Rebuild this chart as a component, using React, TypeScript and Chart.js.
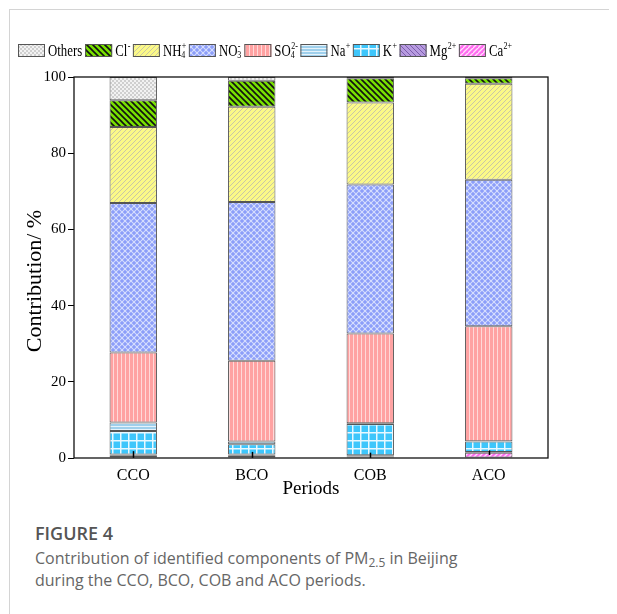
import React, { useEffect, useRef } from 'react';
import { Chart, registerables } from 'chart.js';

Chart.register(...registerables);

// ---- data ----
const periods = ['CCO', 'BCO', 'COB', 'ACO'];
const others = [6.1, 1.0, 0.3, 0.3];
const cl = [7.0, 6.8, 6.4, 1.5];
const nh4 = [20.0, 25.0, 21.5, 25.2];
const no3 = [39.2, 41.7, 39.1, 38.4];
const so4 = [18.4, 21.2, 23.6, 30.2];
const na = [2.2, 0.7, 0.2, 0.1];
const kPlus = [6.2, 2.7, 8.2, 2.7];
const mg = [0.3, 0.3, 0.3, 0.2];
const ca = [0.6, 0.6, 0.4, 1.4];
const caErr = [1.2, 1.0, 1.0, 0.6];
const yTicks = [0, 20, 40, 60, 80, 100];
const yTitle = 'Contribution/ %';
const xTitle = 'Periods';

type Tok = { t?: string; sub?: string; sup?: string };
const legendLabels: Tok[][] = [
  [{ t: 'Others' }],
  [{ t: 'Cl' }, { sup: '-' }],
  [{ t: 'NH' }, { sub: '4', sup: '+' }],
  [{ t: 'NO' }, { sub: '3', sup: '-' }],
  [{ t: 'SO' }, { sub: '4', sup: '2-' }],
  [{ t: 'Na' }, { sup: '+' }],
  [{ t: 'K' }, { sup: '+' }],
  [{ t: 'Mg' }, { sup: '2+' }],
  [{ t: 'Ca' }, { sup: '2+' }],
];

const SERIF = "'Liberation Serif', 'Times New Roman', serif";

function makePattern(size: number, bg: string, draw: (g: CanvasRenderingContext2D, s: number) => void) {
  const c = document.createElement('canvas');
  c.width = size;
  c.height = size;
  const g = c.getContext('2d')!;
  g.fillStyle = bg;
  g.fillRect(0, 0, size, size);
  draw(g, size);
  return g.createPattern(c, 'repeat')!;
}

function fwd(g: CanvasRenderingContext2D, s: number, color: string, w: number) {
  g.strokeStyle = color;
  g.lineWidth = w;
  g.beginPath();
  g.moveTo(-1, s + 1); g.lineTo(s + 1, -1);
  g.moveTo(-s - 1, s + 1); g.lineTo(1, -1);
  g.moveTo(s - 1, 2 * s + 1); g.lineTo(2 * s + 1, s - 1);
  g.stroke();
}
function back(g: CanvasRenderingContext2D, s: number, color: string, w: number) {
  g.strokeStyle = color;
  g.lineWidth = w;
  g.beginPath();
  g.moveTo(-1, -1); g.lineTo(s + 1, s + 1);
  g.moveTo(s - 1, -1); g.lineTo(2 * s + 1, s + 1);
  g.moveTo(-s - 1, -1); g.lineTo(1, s + 1);
  g.stroke();
}

function buildPatterns() {
  return {
    others: makePattern(4, '#f2f2f2', (g) => {
      g.fillStyle = '#cfcfcf';
      g.fillRect(0, 0, 2, 2);
      g.fillRect(2, 2, 2, 2);
    }),
    cl: makePattern(6, '#78e000', (g, s) => back(g, s, '#111', 1.6)),
    nh4: makePattern(5, '#fbf987', (g, s) => fwd(g, s, '#c9c7a6', 1)),
    no3: makePattern(6, '#8c9ef9', (g, s) => {
      fwd(g, s, 'rgba(235,240,255,0.75)', 1.1);
      back(g, s, 'rgba(235,240,255,0.75)', 1.1);
    }),
    so4: makePattern(4, '#ffa2a2', (g) => {
      g.fillStyle = '#ffd9d9';
      g.fillRect(1, 0, 1, 4);
    }),
    na: makePattern(3, '#9fd0ec', (g) => {
      g.fillStyle = '#e6f3fb';
      g.fillRect(0, 1, 3, 1);
    }),
    k: makePattern(8, '#3ec6fb', (g) => {
      g.fillStyle = '#e8f8ff';
      g.fillRect(0, 0, 8, 1.5);
      g.fillRect(0, 0, 1.5, 8);
    }),
    mg: makePattern(5, '#b79be0', (g, s) => back(g, s, '#7b5cab', 1)),
    ca: makePattern(5, '#ff6cf0', (g, s) => fwd(g, s, '#ffe0fb', 1.4)),
  };
}

export default function App() {
  const ref = useRef<HTMLCanvasElement>(null);

  useEffect(() => {
    const canvas = ref.current!;
    const P = buildPatterns();
    const legendFills = [P.others, P.cl, P.nh4, P.no3, P.so4, P.na, P.k, P.mg, P.ca];

    const mk = (label: string, data: number[], fill: CanvasPattern) => ({
      label,
      data,
      backgroundColor: fill,
      borderColor: '#555',
      borderWidth: 1,
      borderSkipped: false as const,
      barPercentage: 0.4,
      categoryPercentage: 1,
    });

    const framePlugin = {
      id: 'frameAndErr',
      afterDatasetsDraw(chart: any) {
        const { ctx, chartArea, scales } = chart;
        const meta = chart.getDatasetMeta(0);
        ctx.save();
        ctx.strokeStyle = '#000';
        ctx.lineWidth = 1.5;
        meta.data.forEach((bar: any, i: number) => {
          const lo = Math.max(0, ca[i] - caErr[i]);
          const hi = ca[i] + caErr[i];
          ctx.beginPath();
          ctx.moveTo(Math.round(bar.x) + 0.5, scales.y.getPixelForValue(lo));
          ctx.lineTo(Math.round(bar.x) + 0.5, scales.y.getPixelForValue(hi));
          ctx.stroke();
        });
        ctx.lineWidth = 1.3;
        ctx.strokeStyle = '#111';
        ctx.strokeRect(chartArea.left, chartArea.top, chartArea.right - chartArea.left, chartArea.bottom - chartArea.top);
        ctx.restore();
      },
      afterDraw(chart: any) {
        const { ctx } = chart;
        ctx.save();
        // y-axis title
        ctx.save();
        ctx.fillStyle = '#000';
        ctx.font = `22px ${SERIF}`;
        ctx.textAlign = 'center';
        ctx.textBaseline = 'middle';
        ctx.translate(27, 273);
        ctx.rotate(-Math.PI / 2);
        ctx.fillText(yTitle, 0, 0);
        ctx.restore();

        // legend
        const sx = 0.8;
        let x = 10;
        const by = 36;
        const bw = 27;
        const bh = 13;
        const cy = by + bh / 2;
        ctx.textBaseline = 'middle';
        const txt = (s: string, px: number, py: number) => {
          ctx.save();
          ctx.translate(px, py);
          ctx.scale(sx, 1);
          ctx.fillText(s, 0, 0);
          ctx.restore();
          return ctx.measureText(s).width * sx;
        };
        legendLabels.forEach((toks, i) => {
          ctx.fillStyle = legendFills[i];
          ctx.fillRect(x, by, bw, bh);
          ctx.strokeStyle = '#555';
          ctx.lineWidth = 1;
          ctx.strokeRect(x + 0.5, by + 0.5, bw - 1, bh - 1);
          x += bw + 3;
          ctx.fillStyle = '#000';
          toks.forEach((tk) => {
            if (tk.t) {
              ctx.font = `16px ${SERIF}`;
              x += txt(tk.t, x, cy + 1);
            } else {
              ctx.font = `10px ${SERIF}`;
              let w = 0;
              if (tk.sup) w = Math.max(w, txt(tk.sup, x + 0.5, cy - 4));
              if (tk.sub) w = Math.max(w, txt(tk.sub, x, cy + 5));
              x += w;
            }
          });
          x += 3;
        });
        ctx.restore();
      },
    };

    const chart = new Chart(canvas, {
      type: 'bar',
      data: {
        labels: periods,
        datasets: [
          mk('Ca2+', ca, P.ca),
          mk('Mg2+', mg, P.mg),
          mk('K+', kPlus, P.k),
          mk('Na+', na, P.na),
          mk('SO42-', so4, P.so4),
          mk('NO3-', no3, P.no3),
          mk('NH4+', nh4, P.nh4),
          mk('Cl-', cl, P.cl),
          mk('Others', others, P.others),
        ],
      },
      options: {
        animation: false,
        responsive: false,
        maintainAspectRatio: false,
        layout: { padding: { top: 69, right: 69, left: 0, bottom: 0 } },
        plugins: { legend: { display: false }, tooltip: { enabled: false } },
        scales: {
          x: {
            stacked: true,
            grid: { display: false, drawTicks: false },
            border: { display: false },
            ticks: { color: '#000', font: { family: SERIF, size: 16 }, padding: 8 },
            title: { display: true, text: xTitle, color: '#000', font: { family: SERIF, size: 19 }, padding: { top: 0, bottom: 8 } },
            afterFit: (s: any) => { s.height = 50; },
          },
          y: {
            stacked: true,
            min: 0,
            max: 100,
            afterBuildTicks: (s: any) => { s.ticks = yTicks.map((v) => ({ value: v })); },
            ticks: { color: '#000', font: { family: SERIF, size: 15 }, padding: 2 },
            grid: { drawOnChartArea: false, drawTicks: true, tickLength: 6, color: '#000', lineWidth: 1 },
            border: { display: false },
            title: { display: false },
            afterFit: (s: any) => { s.width = 66; },
          },
        },
      },
      plugins: [framePlugin],
    });
    return () => chart.destroy();
  }, []);

  return (
    <div style={{ position: 'relative', width: 609, height: 606, overflow: 'hidden' }}>
      <div style={{ position: 'absolute', left: 1, top: 1, width: 620, height: 700, borderLeft: '1px solid #d4d4d4', borderTop: '1px solid #d4d4d4' }} />
      <canvas ref={ref} width={609} height={500} style={{ position: 'absolute', left: 0, top: 0, width: 609, height: 500 }} />
      <div style={{ position: 'absolute', left: 27, top: 513, fontFamily: "'Open Sans', sans-serif", color: '#555', fontSize: 18, fontWeight: 600, lineHeight: '24px' }}>FIGURE 4</div>
      <div style={{ position: 'absolute', left: 27, top: 539, fontFamily: "'Open Sans', sans-serif", color: '#666', fontSize: 16, lineHeight: '22px', width: 560 }}>
        Contribution of identified components of PM<sub style={{ fontSize: 12, verticalAlign: '-3px', lineHeight: 0 }}>2.5</sub> in Beijing<br />during the CCO, BCO, COB and ACO periods.
      </div>
    </div>
  );
}
